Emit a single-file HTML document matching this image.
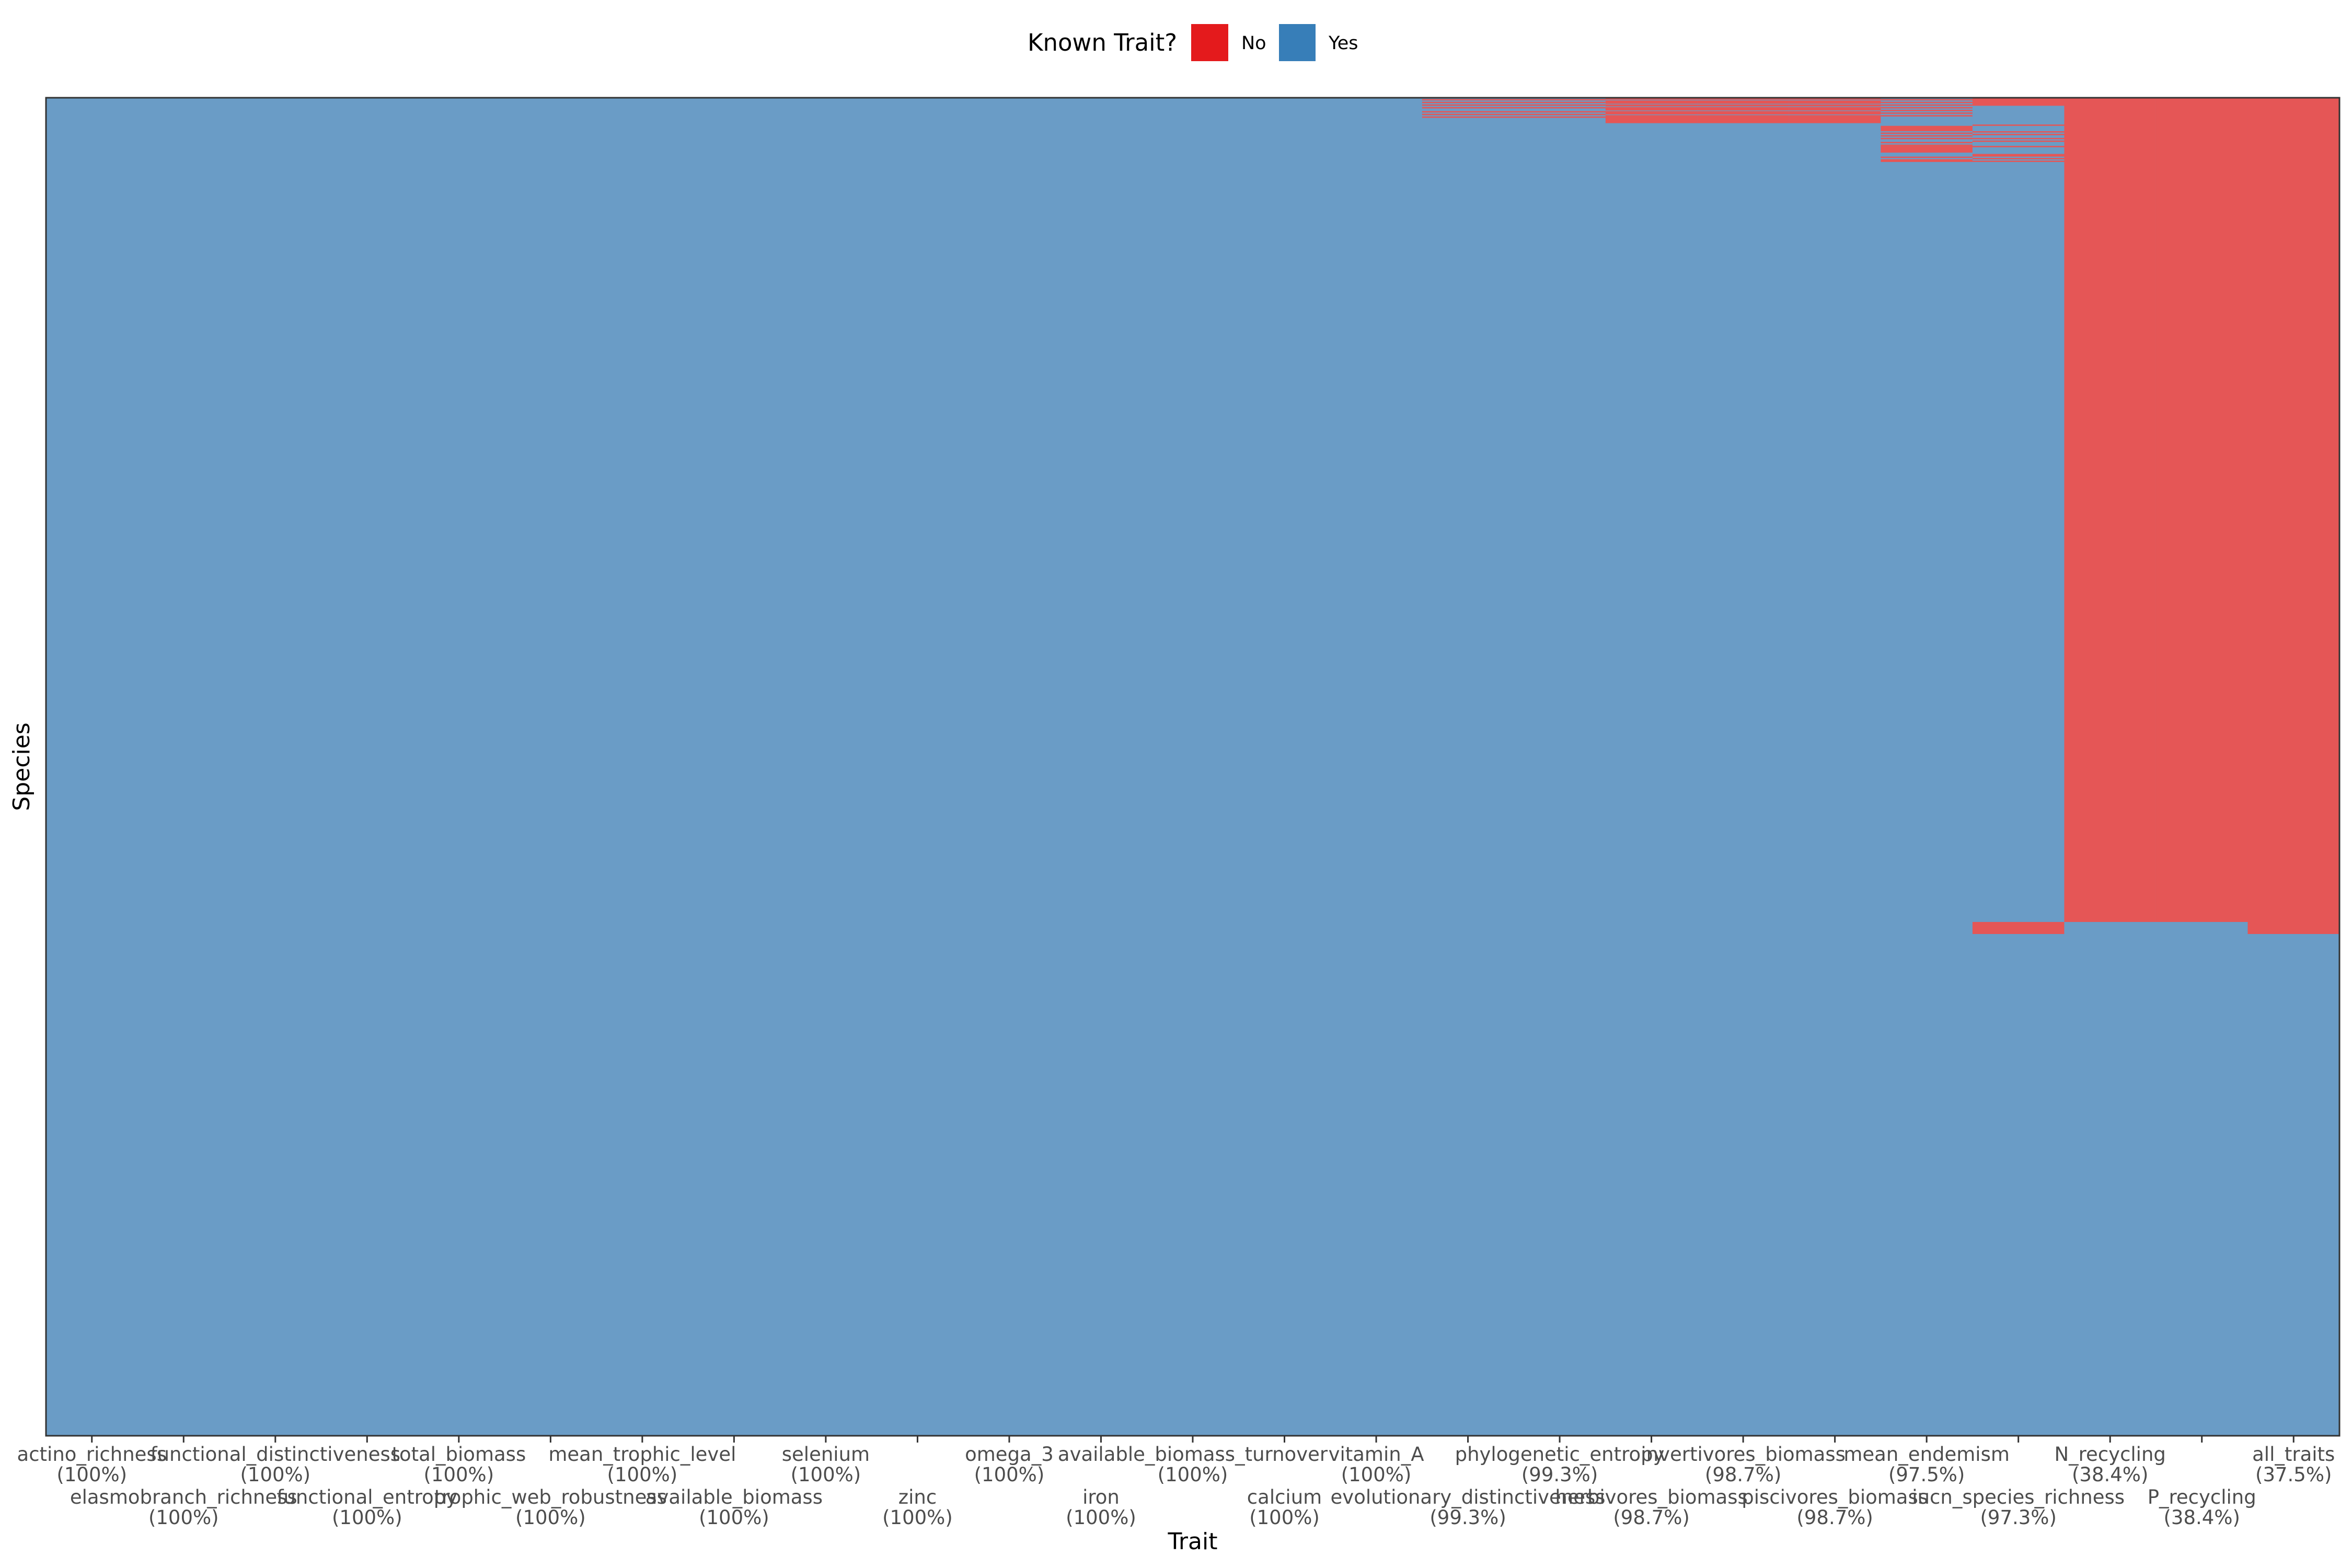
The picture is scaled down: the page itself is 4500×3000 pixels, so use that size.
<!DOCTYPE html>
<html>
<head>
<meta charset="utf-8">
<style>
  html,body{margin:0;padding:0;background:#fff;}
  body{width:4500px;height:3000px;overflow:hidden;font-family:"DejaVu Sans","Liberation Sans",sans-serif;}
  svg{display:block;}
</style>
</head>
<body>
<svg id="chart" width="4500" height="3000" viewBox="0 0 4500 3000" xmlns="http://www.w3.org/2000/svg">
  <g>
    <text x="1966" y="97" font-size="45" fill="#000">Known Trait?</text>
    <rect x="2279" y="46" width="71" height="71" fill="#e41a1c"/>
    <text x="2375" y="94" font-size="35" fill="#000">No</text>
    <rect x="2447" y="46" width="70" height="71" fill="#377eb8"/>
    <text x="2542" y="94" font-size="35" fill="#000">Yes</text>
  </g>
  <g id="cells"></g>
  <rect x="88" y="187" width="4388" height="2560" fill="none" stroke="#333" stroke-width="3"/>
  <g id="xaxis"></g>
  <text x="2282" y="2964" font-size="44" text-anchor="middle" fill="#000">Trait</text>
  <text x="0" y="0" font-size="44" text-anchor="middle" fill="#000" transform="translate(56,1467) rotate(-90)">Species</text>
</svg>
<script>
// ---- data ----
const traits = ["actino_richness","elasmobranch_richness","functional_distinctiveness","functional_entropy","total_biomass","trophic_web_robustness","mean_trophic_level","available_biomass","selenium","zinc","omega_3","iron","available_biomass_turnover","calcium","vitamin_A","evolutionary_distinctiveness","phylogenetic_entropy","herbivores_biomass","invertivores_biomass","piscivores_biomass","mean_endemism","iucn_species_richness","N_recycling","P_recycling","all_traits"];
const coverage = ["100%","100%","100%","100%","100%","100%","100%","100%","100%","100%","100%","100%","100%","100%","100%","99.3%","99.3%","98.7%","98.7%","98.7%","97.5%","97.3%","38.4%","38.4%","37.5%"];
const nSpecies = 1000;
// missing (No) species index ranges [start, end) per trait
const phyloMissing = [[1,2],[3,4],[5,6],[7,8],[10,11],[12,13],[14,15]];
const herbMissing = [[0,1.5],[2,4.5],[5,6.5],[7,9.5],[10,12.5],[13,19]];
const endemMissing = [[1,2],[3,4],[5,6],[7,8],[9,10],[11,12],[13,14],[21,25],[26,27],[28,29],[30,31],[33,34],[35,36],[36,41],[44,45],[46,48]];
const iucnMissing = [[0,6],[20,21],[25,26],[27,28],[30,31],[32,33],[36,37],[42,44],[45,46],[47,48],[616,625]];
const nrecMissing = [[0,616]];
const allMissing = [[0,625]];
const missing = [[],[],[],[],[],[],[],[],[],[],[],[],[],[],[],phyloMissing,phyloMissing,herbMissing,herbMissing,herbMissing,endemMissing,iucnMissing,nrecMissing,nrecMissing,allMissing];

// ---- scales ----
const X0 = 88, X1 = 4476, Y0 = 187, Y1 = 2747;
const colW = (X1 - X0) / traits.length;
const rowH = (Y1 - Y0) / nSpecies;
const xPos = i => X0 + i * colW;
const yPos = r => Y0 + r * rowH;
const NS = "http://www.w3.org/2000/svg";
const cells = document.getElementById('cells');
const xaxis = document.getElementById('xaxis');

traits.forEach((t, i) => {
  const col = document.createElementNS(NS, 'rect');
  
  
  col.setAttribute('x', xPos(i)); col.setAttribute('y', Y0);
  col.setAttribute('width', colW + 0.5); col.setAttribute('height', Y1 - Y0);
  col.setAttribute('fill', '#6a9cc6');
  cells.appendChild(col);
  missing[i].forEach(([a, b]) => {
    const r = document.createElementNS(NS, 'rect');
    
    
    r.setAttribute('x', xPos(i)); r.setAttribute('y', yPos(a));
    r.setAttribute('width', colW + 0.5); r.setAttribute('height', (b - a) * rowH);
    r.setAttribute('fill', '#e55656');
    cells.appendChild(r);
  });
  const cx = xPos(i) + colW / 2;
  const tick = document.createElementNS(NS, 'line');
  
  
  tick.setAttribute('x1', cx); tick.setAttribute('x2', cx);
  tick.setAttribute('y1', Y1); tick.setAttribute('y2', Y1 + 13);
  tick.setAttribute('stroke', '#333'); tick.setAttribute('stroke-width', 3);
  xaxis.appendChild(tick);
  const base = (i % 2 === 0) ? 2795 : 2877;
  const l1 = document.createElementNS(NS, 'text');
  
  
  l1.setAttribute('x', cx); l1.setAttribute('y', base);
  l1.setAttribute('font-size', '37'); l1.setAttribute('text-anchor', 'middle'); l1.setAttribute('fill', '#4d4d4d');
  l1.textContent = t;
  xaxis.appendChild(l1);
  const l2 = document.createElementNS(NS, 'text');
  
  
  l2.setAttribute('x', cx); l2.setAttribute('y', base + 39);
  l2.setAttribute('font-size', '37'); l2.setAttribute('text-anchor', 'middle'); l2.setAttribute('fill', '#4d4d4d');
  l2.textContent = '(' + coverage[i] + ')';
  xaxis.appendChild(l2);
});
</script>
</body>
</html>
